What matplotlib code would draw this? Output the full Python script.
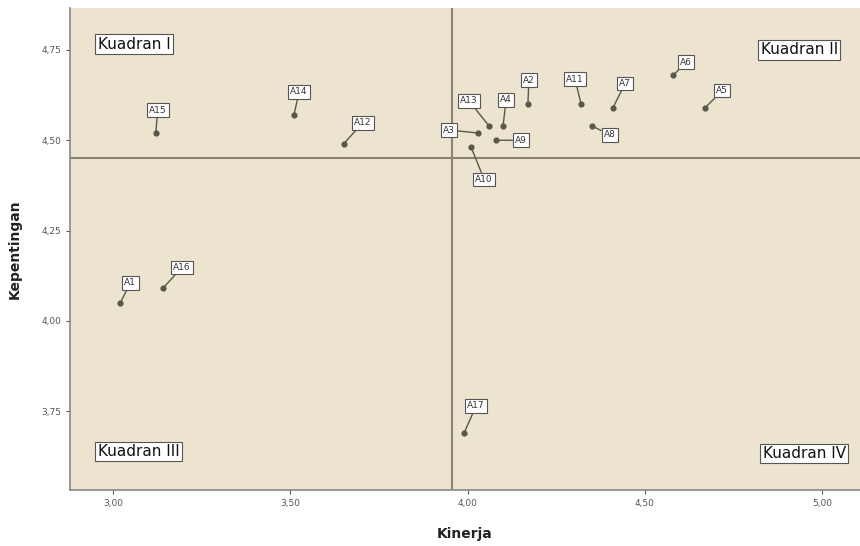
import matplotlib.pyplot as plt
from matplotlib.ticker import FuncFormatter

labels = ['A1', 'A2', 'A3', 'A4', 'A5', 'A6', 'A7', 'A8', 'A9',
          'A10', 'A11', 'A12', 'A13', 'A14', 'A15', 'A16', 'A17']
kinerja = [3.02, 4.17, 4.03, 4.10, 4.67, 4.58, 4.41, 4.35, 4.08,
           4.01, 4.32, 3.65, 4.06, 3.51, 3.12, 3.14, 3.99]
kepentingan = [4.05, 4.60, 4.52, 4.54, 4.59, 4.68, 4.59, 4.54, 4.50,
               4.48, 4.60, 4.49, 4.54, 4.57, 4.52, 4.09, 3.69]
# label offsets in pixels (dx, dy), dy positive = up
offsets = [(10, 20), (1, 24), (-29, 3), (3, 26), (17, 17), (13, 13), (12, 24), (18, -9), (25, 0),
           (13, -32), (-6, 25), (19, 21), (-20, 25), (5, 23), (2, 23), (19, 21), (12, 27)]

mean_x = 3.955
mean_y = 4.45

BG = '#ece4cf'
LINE = '#8a8470'

fig = plt.figure(figsize=(8.6, 5.46), dpi=100)
ax = fig.add_axes([0.0814, 0.1026, 0.9186, 0.8827])
ax.set_facecolor(BG)

ax.axvline(mean_x, color=LINE, lw=1.5, zorder=1)
ax.axhline(mean_y, color=LINE, lw=1.5, zorder=1)

ax.scatter(kinerja, kepentingan, s=12, color='#58584a', zorder=3)

for name, x, y, (dx, dy) in zip(labels, kinerja, kepentingan, offsets):
    ax.annotate(name, (x, y), xytext=(dx, dy), textcoords='offset pixels',
                ha='center', va='center', fontsize=6.5, color='#333333',
                bbox=dict(boxstyle='square,pad=0.25', fc='white', ec='#555555', lw=0.8),
                arrowprops=dict(arrowstyle='-', color='#58584a', lw=1.0, shrinkA=0, shrinkB=1),
                zorder=4)

quad = dict(fontsize=11, color='#111111',
            bbox=dict(boxstyle='square,pad=0.15', fc='white', ec='#555555', lw=0.8))
ax.text(0.035, 0.925, 'Kuadran I', transform=ax.transAxes, ha='left', va='center', **quad)
ax.text(0.972, 0.913, 'Kuadran II', transform=ax.transAxes, ha='right', va='center', **quad)
ax.text(0.035, 0.08, 'Kuadran III', transform=ax.transAxes, ha='left', va='center', **quad)
ax.text(0.982, 0.076, 'Kuadran IV', transform=ax.transAxes, ha='right', va='center', **quad)

ax.set_xlim(2.878, 5.107)
ax.set_ylim(3.532, 4.866)
ax.set_xticks([3.0, 3.5, 4.0, 4.5, 5.0])
ax.set_yticks([3.75, 4.0, 4.25, 4.5, 4.75])
fmt = FuncFormatter(lambda v, p: '{:.2f}'.format(v).replace('.', ','))
ax.xaxis.set_major_formatter(fmt)
ax.yaxis.set_major_formatter(fmt)
ax.tick_params(labelsize=6.5, colors='#555555', length=3, width=0.8)

for s in ['top', 'right']:
    ax.spines[s].set_visible(False)
for s in ['left', 'bottom']:
    ax.spines[s].set_color('#888888')
    ax.spines[s].set_linewidth(1.2)

ax.set_xlabel('Kinerja', fontsize=10, fontweight='bold', color='#222222', labelpad=14)
ax.set_ylabel('Kepentingan', fontsize=10, fontweight='bold', color='#222222', labelpad=14)

fig.savefig('out.png', dpi=100)
